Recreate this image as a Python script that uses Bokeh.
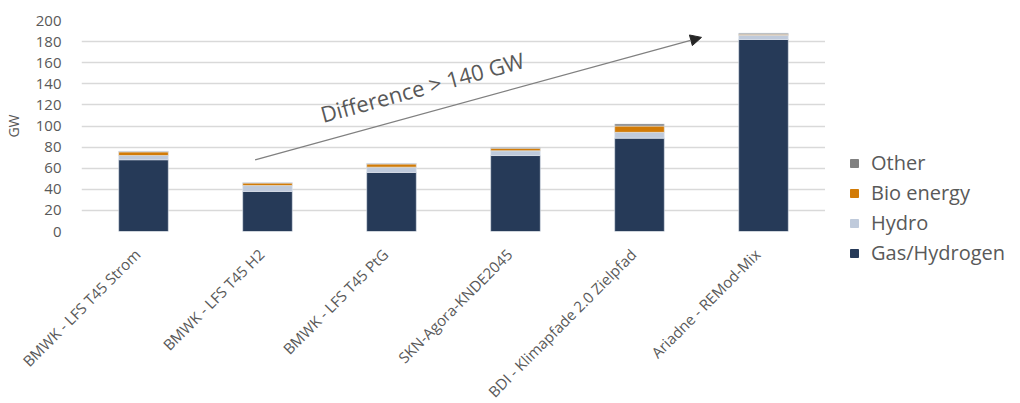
from math import radians

from bokeh.plotting import figure
from bokeh.layouts import row
from bokeh.models import (Range1d, Legend, LegendItem, Arrow, NormalHead,
                          Label, FixedTicker, LinearAxis)
from bokeh.embed import file_html
from bokeh.resources import INLINE

# Installed capacity by scenario (GW)
scenarios = [
    "BMWK - LFS T45 Strom",
    "BMWK - LFS T45 H2",
    "BMWK - LFS T45 PtG",
    "SKN-Agora-KNDE2045",
    "BDI - Klimapfade 2.0 Zielpfad",
    "Ariadne - REMod-Mix",
]
gas_hydrogen = [68, 38, 56, 72, 88.5, 182]
hydro = [4, 5.5, 5, 4.5, 5.5, 4]
bio_energy = [3.5, 2.5, 3, 2.5, 6, 1]
other = [0.5, 0.3, 0.5, 0.8, 2, 1]

series = ["Gas/Hydrogen", "Hydro", "Bio energy", "Other"]
colors = ["#263a58", "#bfcadb", "#d27b06", "#808080"]
y_ticks = list(range(0, 201, 20))

# annotation arrow (x in category slots, GW) and its caption
arrow_start = (1.40, 68)
arrow_end = (5.0, 184)
caption = "Difference > 140 GW"
caption_pos = (1.93, 111)

FONT = "Open Sans"
GREY = "#595959"

n = len(scenarios)
slot = [i + 0.5 for i in range(n)]  # centre of each category slot

data = {
    "slot": slot,
    "Gas/Hydrogen": gas_hydrogen,
    "Hydro": hydro,
    "Bio energy": bio_energy,
    "Other": other,
}

p = figure(
    frame_width=744, frame_height=211,
    x_range=Range1d(0, n),
    y_range=Range1d(0, 200),
    output_backend="svg", toolbar_location=None,
    min_border_left=77, min_border_right=0,
    min_border_top=20, min_border_bottom=0,
)
p.outline_line_color = None
p.background_fill_color = "white"
p.border_fill_color = "white"

renderers = p.vbar_stack(
    series, x="slot", width=0.4, source=data,
    color=colors, line_color="#dfe5ee", line_width=0.6,
)

# y axis
p.yaxis.ticker = FixedTicker(ticks=y_ticks)
p.yaxis.axis_line_color = None
p.yaxis.major_tick_line_color = None
p.yaxis.minor_tick_line_color = None
p.yaxis.major_label_text_font = FONT
p.yaxis.major_label_text_font_size = "15px"
p.yaxis.major_label_text_color = GREY
p.yaxis.major_label_standoff = 14
p.yaxis.axis_label = "GW"
p.yaxis.axis_label_text_font = FONT
p.yaxis.axis_label_text_font_size = "14px"
p.yaxis.axis_label_text_font_style = "normal"
p.yaxis.axis_label_text_color = GREY
p.yaxis.axis_label_standoff = 10

# category labels: slanted, their ends sitting right at each bar
p.xaxis.visible = False
shift = 0.05
p.extra_x_ranges = {"labels": Range1d(shift, n + shift)}
xlab = LinearAxis(
    x_range_name="labels",
    ticker=FixedTicker(ticks=slot),
    major_label_overrides={pos: name for pos, name in zip(slot, scenarios)},
    axis_line_color=None, major_tick_line_color=None,
    minor_tick_line_color=None,
    major_label_orientation=radians(45),
    major_label_text_font=FONT, major_label_text_font_size="15px",
    major_label_text_color=GREY, major_label_standoff=14,
)
p.add_layout(xlab, "below")

p.xgrid.grid_line_color = None
p.ygrid.grid_line_color = "#d9d9d9"
p.ygrid.grid_line_width = 1.3

# trend arrow
p.add_layout(Arrow(
    x_start=arrow_start[0], y_start=arrow_start[1],
    x_end=arrow_end[0], y_end=arrow_end[1],
    line_color="#808080", line_width=1.3,
    end=NormalHead(size=11, fill_color="#262626", line_color="#262626"),
))
p.add_layout(Label(
    x=caption_pos[0], y=caption_pos[1], text=caption,
    angle=radians(15.3),
    text_font=FONT, text_font_size="22px", text_color=GREY,
    text_align="left", text_baseline="alphabetic",
))

# legend panel on the right, top entry = top of the stack
leg = figure(
    width=199, height=403, x_range=Range1d(0, 1), y_range=Range1d(0, 1),
    output_backend="svg", toolbar_location=None, min_border=0,
)
leg.frame_align = False
leg.axis.visible = False
leg.grid.grid_line_color = None
leg.outline_line_color = None
# swatch renderers sit outside the visible range; only their legend glyphs show
swatches = [leg.vbar(x=[-5], top=[-5], bottom=[-6], width=0.1, color=c)
            for c in colors]
items = [LegendItem(label=name, renderers=[r])
         for name, r in zip(series, swatches)][::-1]
legend = Legend(
    items=items, location=(24, 137),
    label_text_font=FONT, label_text_font_size="20px",
    label_text_color=GREY, glyph_width=10, glyph_height=10,
    label_standoff=12, label_height=20, spacing=3,
    padding=0, margin=0, border_line_color=None,
    background_fill_alpha=0,
)
leg.add_layout(legend)

open("out.html", "w").write(file_html(row(p, leg), INLINE))
